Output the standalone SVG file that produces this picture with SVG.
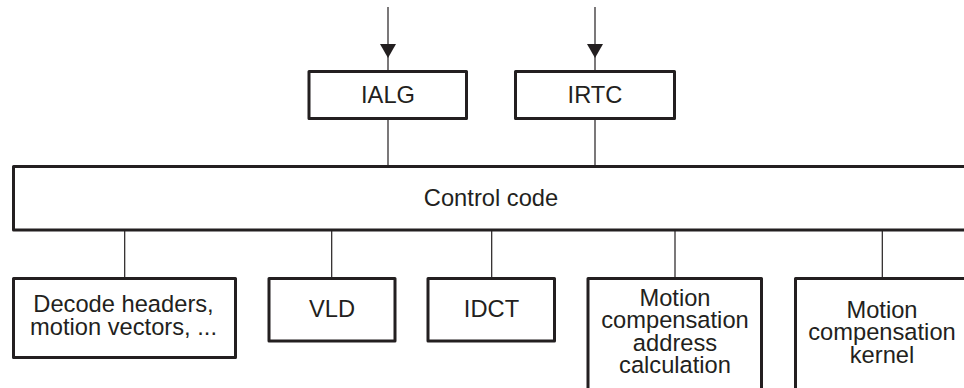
<svg xmlns="http://www.w3.org/2000/svg" width="964" height="388" viewBox="0 0 964 388">
<defs>
<marker id="arr" markerUnits="userSpaceOnUse" markerWidth="17" markerHeight="16" viewBox="0 0 15 17" refX="15" refY="8.5" orient="auto">
<path d="M0,0 L15,8.5 L0,17 Z" fill="#231f20"/>
</marker>
</defs>
<style>
.box{fill:#fff;stroke:#231f20;stroke-width:3;stroke-linejoin:round}
.ln{fill:none;stroke:#231f20;stroke-width:1.2}
text{font-family:"Liberation Sans",Arial,sans-serif;font-size:23.7px;fill:#231f20;text-anchor:middle}
</style>
<rect width="964" height="388" fill="#fff"/>
<g id="connectors">
<path class="ln" d="M388,7 L388,58 L388,70" marker-mid="url(#arr)"/>
<path class="ln" d="M595,7 L595,58 L595,70" marker-mid="url(#arr)"/>
<path class="ln" d="M388,120 V166"/>
<path class="ln" d="M595,120 V166"/>
<path class="ln" d="M124.7,231 V277"/>
<path class="ln" d="M331.7,231 V277"/>
<path class="ln" d="M491.7,231 V277"/>
<path class="ln" d="M675,231 V277"/>
<path class="ln" d="M882.3,231 V277"/>
</g>
<g id="ialg">
<rect class="box" x="309" y="71.5" width="157.5" height="47"/>
<text x="388" y="103">IALG</text>
</g>
<g id="irtc">
<rect class="box" x="515.5" y="71.5" width="159" height="47"/>
<text x="595" y="103">IRTC</text>
</g>
<g id="control">
<rect class="box" x="13.5" y="166.5" width="985" height="63.5"/>
<text x="491" y="206">Control code</text>
</g>
<g id="decode">
<rect class="box" x="13.5" y="278.5" width="222" height="79"/>
<text x="123.5" y="312">Decode headers,</text>
<text x="123.5" y="335">motion vectors, ...</text>
</g>
<g id="vld">
<rect class="box" x="269" y="278.5" width="126" height="62.5"/>
<text x="332" y="317">VLD</text>
</g>
<g id="idct">
<rect class="box" x="428" y="278.5" width="126.5" height="62.5"/>
<text x="491.5" y="317">IDCT</text>
</g>
<g id="mc-addr">
<rect class="box" x="588" y="278.5" width="173.5" height="130"/>
<text x="675" y="305.5">Motion</text>
<text x="675" y="328">compensation</text>
<text x="675" y="350.5">address</text>
<text x="675" y="373">calculation</text>
</g>
<g id="mc-kernel">
<rect class="box" x="795.5" y="278.5" width="200" height="130"/>
<text x="882" y="317.5">Motion</text>
<text x="882" y="340">compensation</text>
<text x="882" y="363">kernel</text>
</g>
</svg>
